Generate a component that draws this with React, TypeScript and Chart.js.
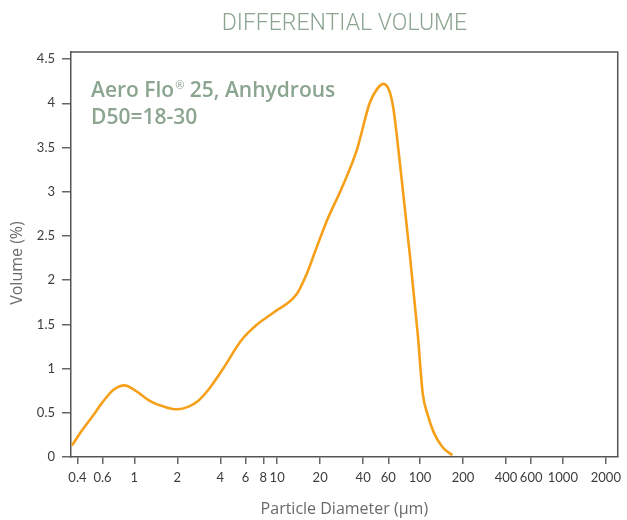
import React, { useEffect, useRef } from "react";
import { Chart, registerables } from "chart.js";

Chart.register(...registerables);

const DIAMETER = [0.366, 0.43, 0.515, 0.6, 0.716, 0.853, 1.0, 1.3, 1.61, 1.99, 2.4, 2.82, 3.3, 4.19, 5.62, 7.13, 9.55, 13.8, 16.2, 18.6, 22.4, 28.3, 36.1, 44.4, 50, 55.5, 61, 65, 69, 75.6, 84.2, 96.3, 104.5, 113.5, 125.4, 144, 168.5];
const VOLUME = [0.13, 0.3, 0.47, 0.62, 0.76, 0.81, 0.76, 0.63, 0.57, 0.54, 0.57, 0.64, 0.76, 1.0, 1.32, 1.49, 1.64, 1.85, 2.08, 2.34, 2.68, 3.04, 3.47, 4.0, 4.16, 4.22, 4.14, 3.95, 3.62, 3.04, 2.34, 1.4, 0.72, 0.47, 0.27, 0.11, 0.02];

const X_TICKS = [0.4, 0.6, 1, 2, 4, 6, 8, 10, 20, 40, 60, 100, 200, 400, 600, 1000, 2000];
const X_TICK_LABELS = ["0.4", "0.6", "1", "2", "4", "6", "8", "10", "20", "40", "60", "100", "200", "400", "600", "1000", "2000"];
const Y_TICKS = [0, 0.5, 1, 1.5, 2, 2.5, 3, 3.5, 4, 4.5];
const Y_TICK_LABELS = ["0", "0.5", "1", "1.5", "2", "2.5", "3", "3.5", "4", "4.5"];

const TITLE = "DIFFERENTIAL VOLUME";
const NOTE_LINE1_A = "Aero Flo";
const NOTE_LINE1_SUP = "®";
const NOTE_LINE1_B = " 25, Anhydrous";
const NOTE_LINE2 = "D50=18-30";
const X_TITLE = "Particle Diameter (µm)";
const Y_TITLE = "Volume (%)";

const GREEN = "#8ba590";
const AXIS = "#555555";

const textPlugin = {
  id: "textPlugin",
  afterDraw(chart: any) {
    const ctx = chart.ctx;
    const a = chart.chartArea;
    ctx.save();
    ctx.strokeStyle = AXIS;
    ctx.lineWidth = 1.5;
    ctx.beginPath();
    ctx.moveTo(a.left, a.top);
    ctx.lineTo(a.right, a.top);
    ctx.lineTo(a.right, a.bottom);
    ctx.stroke();

    const cx = (a.left + a.right) / 2;
    ctx.fillStyle = GREEN;
    ctx.font = "300 23px Roboto";
    ctx.textAlign = "center";
    ctx.textBaseline = "alphabetic";
    ctx.fillText(TITLE, cx, 30, 254);

    ctx.textAlign = "left";
    ctx.font = "600 21px 'Open Sans'";
    let x = 91;
    ctx.fillText(NOTE_LINE1_A, x, 97, 200);
    x += ctx.measureText(NOTE_LINE1_A).width + 1;
    ctx.font = "500 11px 'Open Sans'";
    ctx.fillText(NOTE_LINE1_SUP, x, 89);
    x += ctx.measureText(NOTE_LINE1_SUP).width;
    ctx.font = "600 21px 'Open Sans'";
    ctx.fillText(NOTE_LINE1_B, x, 97);
    ctx.fillText(NOTE_LINE2, 91, 124);

    ctx.fillStyle = "#6a6a6a";
    ctx.font = "16px 'Open Sans'";
    ctx.textAlign = "center";
    ctx.fillText(X_TITLE, cx, 514);
    ctx.save();
    ctx.translate(22, 263);
    ctx.rotate(-Math.PI / 2);
    ctx.fillText(Y_TITLE, 0, 0);
    ctx.restore();
    ctx.restore();
  },
};

export default function App() {
  const ref = useRef<HTMLCanvasElement>(null);
  useEffect(() => {
    const canvas = ref.current;
    if (!canvas) return;
    const points = DIAMETER.map((d, i) => ({ x: d, y: VOLUME[i] }));
    const tickFont = { family: "Lato", size: 13 };
    const chart = new Chart(canvas, {
      type: "line",
      data: {
        datasets: [
          {
            data: points,
            borderColor: "#f6a01a",
            borderWidth: 2.6,
            pointRadius: 0,
            fill: false,
            cubicInterpolationMode: "monotone",
          },
        ],
      },
      options: {
        responsive: false,
        animation: false,
        layout: { padding: { top: 52, right: 3, left: 0, bottom: 0 } },
        plugins: { legend: { display: false }, title: { display: false }, tooltip: { enabled: false } },
        scales: {
          x: {
            type: "logarithmic",
            min: 0.3606,
            max: 2422,
            afterBuildTicks: (s: any) => {
              s.ticks = X_TICKS.map((v) => ({ value: v }));
            },
            afterFit: (s: any) => {
              s.height = 63;
            },
            ticks: {
              autoSkip: false,
              maxRotation: 0,
              minRotation: 0,
              padding: 6,
              color: "#3c3c3c",
              font: tickFont,
              callback: (v: any) => {
                const i = X_TICKS.indexOf(Number(v));
                return i >= 0 ? X_TICK_LABELS[i] : "";
              },
            },
            grid: { drawOnChartArea: false, drawTicks: true, tickLength: 7, color: "#666", lineWidth: 1.5 },
            border: { display: true, color: AXIS, width: 1.5 },
          },
          y: {
            type: "linear",
            min: 0,
            max: 4.58,
            afterBuildTicks: (s: any) => {
              s.ticks = Y_TICKS.map((v) => ({ value: v }));
            },
            afterFit: (s: any) => {
              s.width = 71;
            },
            ticks: {
              padding: 7,
              color: "#3c3c3c",
              font: tickFont,
              callback: (v: any) => {
                const i = Y_TICKS.indexOf(Number(v));
                return i >= 0 ? Y_TICK_LABELS[i] : "";
              },
            },
            grid: { drawOnChartArea: false, drawTicks: true, tickLength: 9, color: "#666", lineWidth: 1.5 },
            border: { display: true, color: AXIS, width: 1.5 },
          },
        },
      },
      plugins: [textPlugin],
    } as any);
    return () => chart.destroy();
  }, []);
  return (
    <div style={{ position: "absolute", left: 0, top: 0, width: 627, height: 520, background: "#fff" }}>
      <canvas ref={ref} width={627} height={520} style={{ display: "block" }} />
    </div>
  );
}
